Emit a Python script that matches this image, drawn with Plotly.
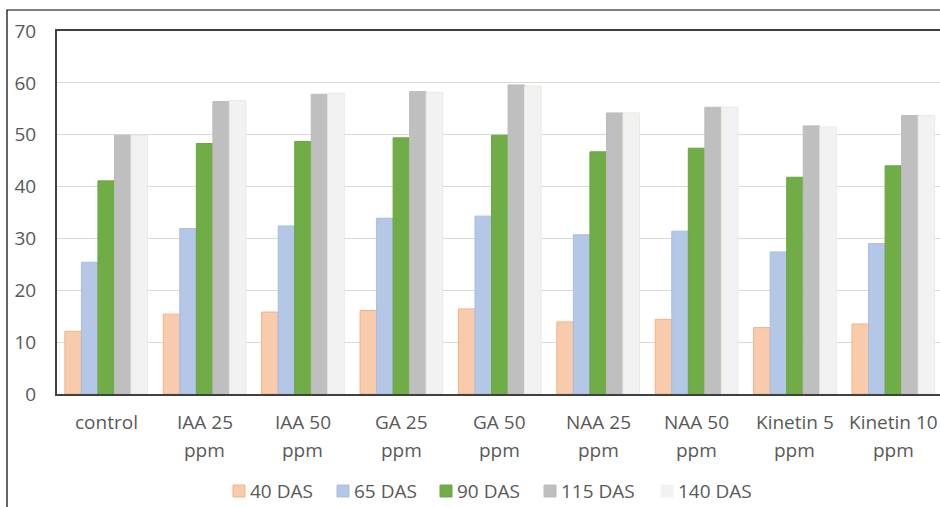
import plotly.graph_objects as go

# Plant height (cm) at successive days after sowing, per growth-regulator treatment
categories = ["control", "IAA 25 ppm", "IAA 50 ppm", "GA 25 ppm", "GA 50 ppm",
              "NAA 25 ppm", "NAA 50 ppm", "Kinetin 5 ppm", "Kinetin 10 ppm"]
series_names = ["40 DAS", "65 DAS", "90 DAS", "115 DAS", "140 DAS"]

das_40 = [12.1, 15.4, 15.8, 16.1, 16.4, 13.9, 14.4, 12.8, 13.5]
das_65 = [25.4, 31.9, 32.4, 33.9, 34.3, 30.7, 31.4, 27.4, 29.0]
das_90 = [41.1, 48.3, 48.7, 49.4, 49.9, 46.7, 47.4, 41.8, 44.0]
das_115 = [49.9, 56.4, 57.8, 58.3, 59.6, 54.2, 55.3, 51.7, 53.7]
das_140 = [49.9, 56.6, 58.0, 58.2, 59.4, 54.2, 55.3, 51.5, 53.7]

y_ticks = [0, 10, 20, 30, 40, 50, 60, 70]

fills = ["#F8CBAD", "#B4C7E7", "#70AD47", "#BFBFBF", "#F2F2F2"]
edges = ["#F4B183", "#A9BDE0", "#6AA542", "#BBBBBB", "#F2F2F2"]
glow = ["#F4B183", "#A9BDE0", "#6AA542", "#BBBBBB", "#E4EEDC"]

FONT = "Open Sans"
TEXT = "#595959"
SIZE = 19

# Plot-area geometry in pixels, used to place the legend key below the axis
W, H = 940, 507
L, R, T, B = 57, 0, 31, 113
PW, PH = W - L - R, H - T - B


def px_x(px):
    return (px - L) / PW


def px_y(py):
    return (H - B - py) / PH


fig = go.Figure()
for name, vals, fc, ec in zip(series_names, [das_40, das_65, das_90, das_115, das_140], fills, glow):
    fig.add_trace(go.Bar(
        x=list(range(len(categories))), y=vals, name=name, showlegend=False,
        marker=dict(color=fc, line=dict(color=ec, width=1)),
    ))

# Category labels split into two lines, drawn below the axis
for i, cat in enumerate(categories):
    parts = cat.split(" ")
    if len(parts) > 1:
        line1 = " ".join(parts[:-1])
        line2 = parts[-1]
    else:
        line1, line2 = cat, ""
    fig.add_annotation(x=i, y=-0.077, xref="x", yref="paper", text=line1,
                       showarrow=False, yanchor="middle", xanchor="center",
                       font=dict(family=FONT, size=SIZE, color=TEXT))
    if line2:
        fig.add_annotation(x=i, y=-0.155, xref="x", yref="paper", text=line2,
                           showarrow=False, yanchor="middle", xanchor="center",
                           font=dict(family=FONT, size=SIZE, color=TEXT))

# Legend key: coloured square + series name, in one centred row
key_left = [233, 337, 440, 544, 661]
key_mid = 491
for name, fc, ec, x0 in zip(series_names, fills, edges, key_left):
    fig.add_shape(type="rect", xref="paper", yref="paper",
                  x0=px_x(x0), x1=px_x(x0 + 12), y0=px_y(key_mid + 6), y1=px_y(key_mid - 6),
                  fillcolor=fc, line=dict(color=ec, width=1))
    fig.add_annotation(x=px_x(x0 + 15), y=px_y(key_mid), xref="paper", yref="paper",
                       text=name, showarrow=False, xanchor="left", yanchor="middle",
                       font=dict(family=FONT, size=SIZE, color=TEXT))

# Outer chart frame (continues past the right and bottom edges)
fig.add_shape(type="rect", xref="paper", yref="paper",
              x0=px_x(7), y0=px_y(560), x1=px_x(1000), y1=px_y(10),
              line=dict(color="#000000", width=1.2), fillcolor="rgba(0,0,0,0)", layer="below")

fig.update_layout(
    width=W, height=H,
    margin=dict(l=L, r=R, t=T, b=B),
    paper_bgcolor="white", plot_bgcolor="white",
    barmode="group", bargap=0.16, bargroupgap=0,
    font=dict(family=FONT, size=SIZE, color=TEXT),
    showlegend=False,
    xaxis=dict(range=[-0.5, 8.474], showticklabels=False, showgrid=False,
               showline=True, linecolor="#404040", linewidth=2, mirror=True,
               zeroline=False, ticks=""),
    yaxis=dict(range=[0, 70], tickvals=y_ticks, showgrid=True, gridcolor="#D9D9D9",
               gridwidth=1, showline=True, linecolor="#404040", linewidth=2, mirror=False,
               zeroline=False, ticks="", ticklabelstandoff=15,
               tickfont=dict(family=FONT, size=SIZE, color=TEXT)),
)

fig.write_html("out.html")
